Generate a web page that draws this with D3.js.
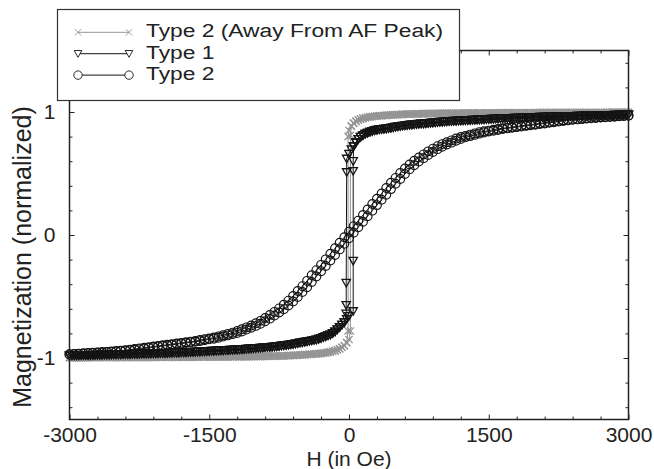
<!DOCTYPE html>
<html>
<head>
<meta charset="utf-8">
<script src="https://cdn.jsdelivr.net/npm/d3@7"></script>
<style>
  body { margin: 0; background: #fff; }
  text { font-family: "Liberation Sans", Arial, Helvetica, sans-serif; fill: #222; }
</style>
</head>
<body>
<div id="chart"></div>
<script>
// field values (Oe)
const fieldGrid = [
  -3000, -2950, -2900, -2850, -2800, -2750, -2700, -2650, -2600, -2550,
  -2500, -2450, -2400, -2350, -2300, -2250, -2200, -2150, -2100, -2050,
  -2000, -1950, -1900, -1850, -1800, -1750, -1700, -1650, -1600, -1550,
  -1500, -1450, -1400, -1350, -1300, -1250, -1200, -1150, -1100, -1050,
  -1000, -950, -900, -850, -800, -750, -700, -650, -600, -550,
  -500, -450, -400, -350, -300, -250, -200, -150, -100, -50,
  0, 50, 100, 150, 200, 250, 300, 350, 400, 450,
  500, 550, 600, 650, 700, 750, 800, 850, 900, 950,
  1000, 1050, 1100, 1150, 1200, 1250, 1300, 1350, 1400, 1450,
  1500, 1550, 1600, 1650, 1700, 1750, 1800, 1850, 1900, 1950,
  2000, 2050, 2100, 2150, 2200, 2250, 2300, 2350, 2400, 2450,
  2500, 2550, 2600, 2650, 2700, 2750, 2800, 2850, 2900, 2950,
  3000
];
// extra field values measured in between (square loops are sampled more densely)
const negMidGrid = [
  -2975, -2925, -2875, -2825, -2775, -2725, -2675, -2625, -2575, -2525,
  -2475, -2425, -2375, -2325, -2275, -2225, -2175, -2125, -2075, -2025,
  -1975, -1925, -1875, -1825, -1775, -1725, -1675, -1625, -1575, -1525,
  -1475, -1425, -1375, -1325, -1275, -1225, -1175, -1125, -1075, -1025,
  -975, -925, -875, -825, -775, -725, -675, -625, -575, -525,
  -475, -425, -375, -325, -275, -225, -175, -125, -75, -25
];
const posMidGrid = [
  25, 75, 125, 175, 225, 275, 325, 375, 425, 475,
  525, 575, 625, 675, 725, 775, 825, 875, 925, 975,
  1025, 1075, 1125, 1175, 1225, 1275, 1325, 1375, 1425, 1475,
  1525, 1575, 1625, 1675, 1725, 1775, 1825, 1875, 1925, 1975,
  2025, 2075, 2125, 2175, 2225, 2275, 2325, 2375, 2425, 2475,
  2525, 2575, 2625, 2675, 2725, 2775, 2825, 2875, 2925, 2975
];

// Type 2 (Away From AF Peak): upper curve H = 0..3000, lower curve H = -3000..0
const awayUpperM = [
  0.85, 0.91, 0.935, 0.948, 0.957, 0.963, 0.967, 0.970, 0.973, 0.976,
  0.978, 0.980, 0.982, 0.983, 0.984, 0.985, 0.986, 0.987, 0.988, 0.988,
  0.989, 0.989, 0.990, 0.990, 0.990, 0.991, 0.991, 0.991, 0.992, 0.992,
  0.992, 0.992, 0.993, 0.993, 0.993, 0.993, 0.994, 0.994, 0.994, 0.994,
  0.994, 0.995, 0.995, 0.995, 0.995, 0.995, 0.995, 0.995, 0.996, 0.996,
  0.996, 0.996, 0.996, 0.996, 0.996, 0.996, 0.997, 0.997, 0.997, 0.997,
  0.997
];
const awayUpperMidM = [
  0.885, 0.924, 0.942, 0.953, 0.960, 0.965, 0.969, 0.972, 0.975, 0.977,
  0.979, 0.981, 0.983, 0.984, 0.985, 0.986, 0.987, 0.988, 0.988, 0.989,
  0.989, 0.990, 0.990, 0.990, 0.991, 0.991, 0.991, 0.992, 0.992, 0.992,
  0.992, 0.993, 0.993, 0.993, 0.993, 0.994, 0.994, 0.994, 0.994, 0.994,
  0.995, 0.995, 0.995, 0.995, 0.995, 0.995, 0.995, 0.996, 0.996, 0.996,
  0.996, 0.996, 0.996, 0.996, 0.996, 0.997, 0.997, 0.997, 0.997, 0.997
];
const awayLowerM = [
  -0.997, -0.997, -0.997, -0.997, -0.997, -0.996, -0.996, -0.996, -0.996, -0.996,
  -0.996, -0.996, -0.995, -0.995, -0.995, -0.995, -0.995, -0.995, -0.995, -0.994,
  -0.994, -0.994, -0.994, -0.994, -0.993, -0.993, -0.993, -0.993, -0.992, -0.992,
  -0.992, -0.992, -0.991, -0.991, -0.991, -0.990, -0.990, -0.990, -0.989, -0.989,
  -0.988, -0.988, -0.987, -0.986, -0.985, -0.984, -0.983, -0.981, -0.979, -0.977,
  -0.975, -0.972, -0.969, -0.966, -0.962, -0.957, -0.950, -0.940, -0.925, -0.90,
  -0.85
];
const awayLowerMidM = [
  -0.997, -0.997, -0.997, -0.997, -0.996, -0.996, -0.996, -0.996, -0.996, -0.996,
  -0.996, -0.995, -0.995, -0.995, -0.995, -0.995, -0.995, -0.995, -0.994, -0.994,
  -0.994, -0.994, -0.994, -0.993, -0.993, -0.993, -0.993, -0.992, -0.992, -0.992,
  -0.992, -0.991, -0.991, -0.991, -0.990, -0.990, -0.990, -0.989, -0.989, -0.988,
  -0.988, -0.987, -0.986, -0.985, -0.984, -0.983, -0.982, -0.980, -0.978, -0.976,
  -0.973, -0.970, -0.967, -0.964, -0.960, -0.954, -0.945, -0.933, -0.913, -0.875
];
const awayDownSwitchH = [-10, -10];
const awayDownSwitchM = [0.80, -0.78];
const awayUpSwitchH = [15, 15];
const awayUpSwitchM = [-0.78, 0.81];

// Type 1
const type1UpperM = [
  0.66, 0.72, 0.78, 0.81, 0.83, 0.845, 0.855, 0.86, 0.865, 0.87,
  0.878, 0.885, 0.89, 0.895, 0.90, 0.903, 0.906, 0.91, 0.913, 0.917,
  0.92, 0.923, 0.926, 0.928, 0.93, 0.932, 0.934, 0.936, 0.938, 0.94,
  0.942, 0.944, 0.946, 0.948, 0.95, 0.951, 0.953, 0.954, 0.956, 0.957,
  0.959, 0.96, 0.961, 0.962, 0.963, 0.964, 0.965, 0.966, 0.967, 0.968,
  0.969, 0.97, 0.971, 0.972, 0.973, 0.974, 0.975, 0.976, 0.977, 0.978,
  0.978
];
const type1UpperMidM = [
  0.695, 0.752, 0.797, 0.821, 0.838, 0.850, 0.858, 0.863, 0.868, 0.874,
  0.882, 0.888, 0.893, 0.898, 0.902, 0.905, 0.908, 0.912, 0.915, 0.919,
  0.922, 0.925, 0.927, 0.929, 0.931, 0.933, 0.935, 0.937, 0.939, 0.941,
  0.943, 0.945, 0.947, 0.949, 0.950, 0.952, 0.953, 0.955, 0.956, 0.958,
  0.959, 0.960, 0.961, 0.962, 0.963, 0.964, 0.965, 0.966, 0.967, 0.968,
  0.969, 0.970, 0.971, 0.972, 0.973, 0.974, 0.975, 0.976, 0.977, 0.978
];
const type1LowerM = [
  -0.98, -0.98, -0.979, -0.978, -0.977, -0.976, -0.975, -0.974, -0.973, -0.972,
  -0.971, -0.97, -0.969, -0.968, -0.967, -0.966, -0.965, -0.964, -0.963, -0.962,
  -0.961, -0.96, -0.958, -0.957, -0.955, -0.954, -0.952, -0.95, -0.948, -0.946,
  -0.944, -0.942, -0.94, -0.938, -0.936, -0.934, -0.932, -0.93, -0.927, -0.924,
  -0.921, -0.918, -0.914, -0.911, -0.907, -0.903, -0.898, -0.893, -0.887, -0.88,
  -0.873, -0.866, -0.858, -0.85, -0.838, -0.825, -0.81, -0.785, -0.75, -0.71,
  -0.66
];
const type1LowerMidM = [
  -0.980, -0.979, -0.978, -0.977, -0.976, -0.975, -0.974, -0.973, -0.972, -0.971,
  -0.970, -0.969, -0.968, -0.967, -0.966, -0.965, -0.964, -0.963, -0.962, -0.961,
  -0.960, -0.959, -0.957, -0.956, -0.954, -0.953, -0.951, -0.949, -0.947, -0.945,
  -0.943, -0.941, -0.939, -0.937, -0.935, -0.933, -0.931, -0.928, -0.925, -0.922,
  -0.919, -0.916, -0.912, -0.909, -0.905, -0.900, -0.895, -0.890, -0.883, -0.876,
  -0.869, -0.862, -0.854, -0.844, -0.831, -0.817, -0.798, -0.768, -0.730, -0.685
];
const type1DownSwitchH = [-25, -25, -30, -30, -30];
const type1DownSwitchM = [0.62, 0.51, -0.39, -0.57, -0.64];
const type1UpSwitchH = [45, 45, 45, 45];
const type1UpSwitchM = [-0.62, -0.21, 0.52, 0.60];

// Type 2: descending and ascending branches on fieldGrid
const type2DownM = [
  -0.970, -0.967, -0.965, -0.962, -0.960, -0.957, -0.955, -0.952, -0.950, -0.947,
  -0.942, -0.940, -0.937, -0.932, -0.927, -0.922, -0.917, -0.912, -0.907, -0.902,
  -0.897, -0.892, -0.887, -0.882, -0.877, -0.872, -0.867, -0.862, -0.854, -0.847,
  -0.842, -0.834, -0.824, -0.814, -0.804, -0.794, -0.781, -0.766, -0.751, -0.736,
  -0.718, -0.698, -0.675, -0.650, -0.625, -0.597, -0.567, -0.534, -0.496, -0.456,
  -0.416, -0.373, -0.328, -0.286, -0.243, -0.198, -0.153, -0.108, -0.063, -0.018,
  0.027, 0.072, 0.117, 0.162, 0.207, 0.252, 0.294, 0.337, 0.382, 0.424,
  0.464, 0.504, 0.541, 0.573, 0.603, 0.630, 0.655, 0.680, 0.702, 0.722,
  0.739, 0.754, 0.769, 0.784, 0.796, 0.806, 0.816, 0.826, 0.836, 0.843,
  0.848, 0.856, 0.863, 0.868, 0.873, 0.878, 0.883, 0.888, 0.893, 0.898,
  0.903, 0.908, 0.913, 0.918, 0.923, 0.928, 0.933, 0.938, 0.940, 0.943,
  0.948, 0.950, 0.953, 0.955, 0.958, 0.960, 0.963, 0.965, 0.968, 0.970,
  0.971
];
const type2UpM = [
  -0.971, -0.970, -0.968, -0.965, -0.963, -0.960, -0.958, -0.955, -0.953, -0.950,
  -0.948, -0.943, -0.940, -0.938, -0.933, -0.928, -0.923, -0.918, -0.913, -0.908,
  -0.903, -0.898, -0.893, -0.888, -0.883, -0.878, -0.873, -0.868, -0.863, -0.856,
  -0.848, -0.843, -0.836, -0.826, -0.816, -0.806, -0.796, -0.784, -0.769, -0.754,
  -0.739, -0.722, -0.702, -0.680, -0.655, -0.630, -0.603, -0.573, -0.541, -0.504,
  -0.464, -0.424, -0.382, -0.337, -0.294, -0.252, -0.207, -0.162, -0.117, -0.072,
  -0.027, 0.018, 0.063, 0.108, 0.153, 0.198, 0.243, 0.286, 0.328, 0.373,
  0.416, 0.456, 0.496, 0.534, 0.567, 0.597, 0.625, 0.650, 0.675, 0.698,
  0.718, 0.736, 0.751, 0.766, 0.781, 0.794, 0.804, 0.814, 0.824, 0.834,
  0.842, 0.847, 0.854, 0.862, 0.867, 0.872, 0.877, 0.882, 0.887, 0.892,
  0.897, 0.902, 0.907, 0.912, 0.917, 0.922, 0.927, 0.932, 0.937, 0.940,
  0.942, 0.947, 0.950, 0.952, 0.955, 0.957, 0.960, 0.962, 0.965, 0.967,
  0.970
];

const xMajorTicks = [-3000, -1500, 0, 1500, 3000];
const xMinorTicks = [-2700, -2400, -2100, -1800, -1200, -900, -600, -300,
  300, 600, 900, 1200, 1800, 2100, 2400, 2700];
const yMajorTicks = [-1, 0, 1];
const yMinorTicks = [-1.4, -1.2, -0.8, -0.6, -0.4, -0.2, 0.2, 0.4, 0.6, 0.8, 1.2, 1.4];
const seriesNames = ["Type 2 (Away From AF Peak)", "Type 1", "Type 2"];

let w = 654;
let h = 469;

let svg = d3.select("#chart").append("svg")
  .attr("width", w)
  .attr("height", h);

let x = d3.scaleLinear().domain([-3000, 3000]).range([69.5, 628.5]);
let y = d3.scaleLinear().domain([-1.5, 1.5]).range([419.5, 50.5]);

const posGrid = fieldGrid.slice(60);    // 0..3000
const negGrid = fieldGrid.slice(0, 61); // -3000..0

function pts(hs, ms) {
  return hs.map((v, i) => [v, ms[i]]);
}

// sweep down from +3000 to -3000 (down), then back up (up)
function loopBranches(upperM, upperMidM, lowerM, lowerMidM, downH, downM, upH, upM) {
  let upper = pts(posGrid, upperM).concat(pts(posMidGrid, upperMidM))
    .sort((a, b) => a[0] - b[0]);
  let lower = pts(negGrid, lowerM).concat(pts(negMidGrid, lowerMidM))
    .sort((a, b) => a[0] - b[0]);
  let down = upper.slice().reverse()
    .concat(pts(downH, downM))
    .concat(lower.filter(d => d[0] < d3.min(downH)).reverse());
  let up = lower
    .concat(pts(upH, upM))
    .concat(upper.filter(d => d[0] > d3.max(upH)));
  return [down, up];
}

const series = [
  {
    name: seriesNames[0], color: "#959595", marker: "x", mw: 1.3,
    branches: loopBranches(awayUpperM, awayUpperMidM, awayLowerM, awayLowerMidM,
      awayDownSwitchH, awayDownSwitchM, awayUpSwitchH, awayUpSwitchM)
  },
  {
    name: seriesNames[1], color: "#141414", marker: "tri", mw: 1.3,
    branches: loopBranches(type1UpperM, type1UpperMidM, type1LowerM, type1LowerMidM,
      type1DownSwitchH, type1DownSwitchM, type1UpSwitchH, type1UpSwitchM)
  },
  {
    name: seriesNames[2], color: "#141414", marker: "circle", mw: 1.15,
    branches: [pts(fieldGrid.slice().reverse(), type2DownM.slice().reverse()), pts(fieldGrid, type2UpM)]
  }
];

const markerPath = {
  x: "M-3.6,-3.6L3.6,3.6M-3.6,3.6L3.6,-3.6",
  tri: "M-4.2,-3.5L4.2,-3.5L0,4Z",
  circle: "M4.4,0A4.4,4.4 0 1,1 -4.4,0A4.4,4.4 0 1,1 4.4,0Z"
};
const legendMarkerPath = {
  x: "M-3.2,-3.2L3.2,3.2M-3.2,3.2L3.2,-3.2",
  tri: "M-3.8,-3.2L3.8,-3.2L0,3.6Z",
  circle: "M4.2,0A4.2,4.2 0 1,1 -4.2,0A4.2,4.2 0 1,1 4.2,0Z"
};

let line = d3.line().x(d => x(d[0])).y(d => y(d[1]));

let plot = svg.append("g");

series.forEach(s => {
  let g = plot.append("g");
  g.selectAll("path.branch")
    .data(s.branches)
    .enter().append("path")
    .attr("class", "branch")
    .attr("d", line)
    .attr("fill", "none")
    .attr("stroke", s.color)
    .attr("stroke-width", 1);

  let allPts = s.branches[0].concat(s.branches[1]);
  g.selectAll("path.mk")
    .data(allPts)
    .enter().append("path")
    .attr("class", "mk")
    .attr("d", markerPath[s.marker])
    .attr("transform", d => `translate(${x(d[0])},${y(d[1])})`)
    .attr("fill", "none")
    .attr("stroke", s.color)
    .attr("stroke-width", s.mw);
});

// frame
svg.append("rect")
  .attr("x", x(-3000))
  .attr("y", y(1.5))
  .attr("width", x(3000) - x(-3000))
  .attr("height", y(-1.5) - y(1.5))
  .attr("fill", "none")
  .attr("stroke", "#222")
  .attr("stroke-width", 1.5);

const fmt = d => String(d); // plain hyphen minus, like the original

function styleAxis(g) {
  g.select(".domain").remove();
  g.selectAll(".tick line").attr("stroke", "#222").attr("stroke-width", 1);
  g.selectAll(".tick text")
    .style("font-size", "21px")
    .attr("fill", "#222");
}

// bottom axis (inward ticks)
svg.append("g")
  .attr("transform", `translate(0,${y(-1.5)})`)
  .call(d3.axisBottom(x).tickValues(xMajorTicks).tickSizeInner(-5).tickSizeOuter(0).tickPadding(8).tickFormat(fmt))
  .call(styleAxis);
svg.append("g")
  .attr("transform", `translate(0,${y(-1.5)})`)
  .call(d3.axisBottom(x).tickValues(xMinorTicks).tickSizeInner(-3).tickSizeOuter(0).tickFormat(""))
  .call(styleAxis);
// top axis ticks
svg.append("g")
  .attr("transform", `translate(0,${y(1.5)})`)
  .call(d3.axisTop(x).tickValues(xMajorTicks).tickSizeInner(-5).tickSizeOuter(0).tickFormat(""))
  .call(styleAxis);
svg.append("g")
  .attr("transform", `translate(0,${y(1.5)})`)
  .call(d3.axisTop(x).tickValues(xMinorTicks).tickSizeInner(-3).tickSizeOuter(0).tickFormat(""))
  .call(styleAxis);

// left axis
svg.append("g")
  .attr("transform", `translate(${x(-3000)},0)`)
  .call(d3.axisLeft(y).tickValues(yMajorTicks).tickSizeInner(-5).tickSizeOuter(0).tickPadding(14).tickFormat(fmt))
  .call(styleAxis);
svg.append("g")
  .attr("transform", `translate(${x(-3000)},0)`)
  .call(d3.axisLeft(y).tickValues(yMinorTicks).tickSizeInner(-3).tickSizeOuter(0).tickFormat(""))
  .call(styleAxis);
// right axis ticks
svg.append("g")
  .attr("transform", `translate(${x(3000)},0)`)
  .call(d3.axisRight(y).tickValues(yMajorTicks).tickSizeInner(-5).tickSizeOuter(0).tickFormat(""))
  .call(styleAxis);
svg.append("g")
  .attr("transform", `translate(${x(3000)},0)`)
  .call(d3.axisRight(y).tickValues(yMinorTicks).tickSizeInner(-3).tickSizeOuter(0).tickFormat(""))
  .call(styleAxis);

// axis titles
svg.append("text")
  .attr("x", x(0))
  .attr("y", 466)
  .attr("text-anchor", "middle")
  .style("font-size", "21px")
  .text("H (in Oe)");

svg.append("text")
  .attr("transform", "translate(31,257) rotate(-90)")
  .attr("text-anchor", "middle")
  .style("font-size", "25px")
  .text("Magnetization (normalized)");

// legend
let legend = svg.append("g");
legend.append("rect")
  .attr("x", 57.5).attr("y", 9.5)
  .attr("width", 402).attr("height", 91)
  .attr("fill", "#fff")
  .attr("stroke", "#333")
  .attr("stroke-width", 1.2);

series.forEach((s, i) => {
  let ly = 32.3 + i * 21.4;
  let row = legend.append("g");
  row.append("line")
    .attr("x1", 78).attr("x2", 129)
    .attr("y1", ly).attr("y2", ly)
    .attr("stroke", s.color).attr("stroke-width", 1);
  [78, 129].forEach(lx => {
    row.append("path")
      .attr("d", legendMarkerPath[s.marker])
      .attr("transform", `translate(${lx},${ly})`)
      .attr("fill", "#fff")
      .attr("stroke", s.color)
      .attr("stroke-width", 0.9);
  });
  row.append("text")
    .attr("transform", `translate(146,${ly + 4.8}) scale(1.2,1)`)
    .style("font-size", "19px")
    .text(s.name);
});
</script>
</body>
</html>
